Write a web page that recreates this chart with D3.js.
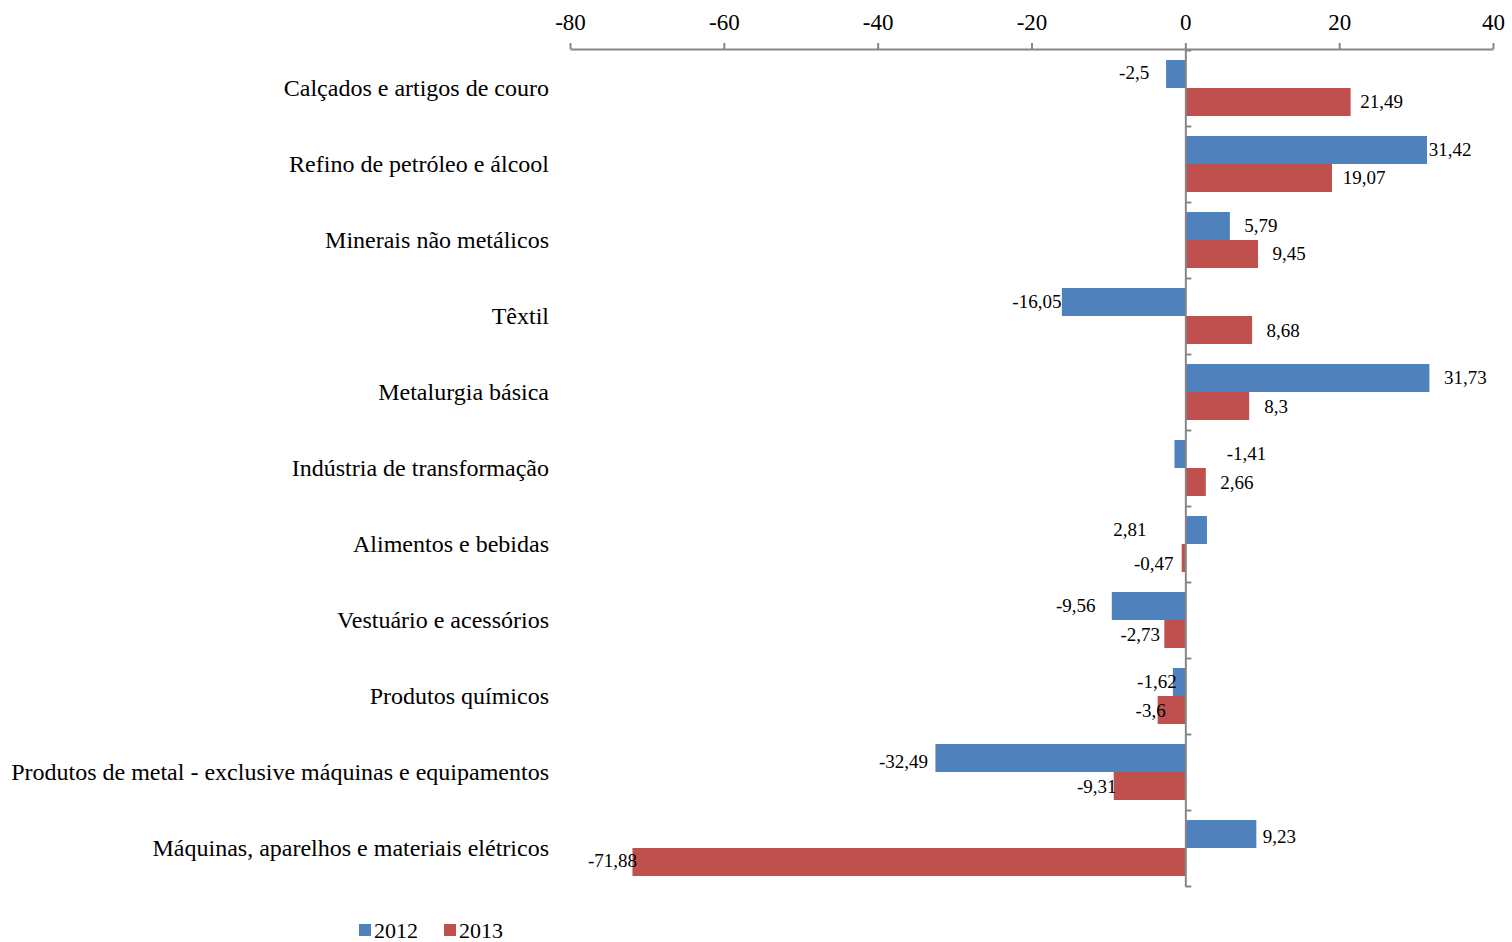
<!DOCTYPE html>
<html>
<head>
<meta charset="utf-8">
<script src="https://cdn.jsdelivr.net/npm/d3@7"></script>
<style>
  html, body { margin: 0; padding: 0; background: #fff; }
  svg text { font-family: "Liberation Serif", "Times New Roman", serif; fill: #000; }
  .axis path, .axis line { stroke: #868686; stroke-width: 2; }
</style>
</head>
<body>
<div id="chart"></div>
<script>
// Data
var categories = [
  "Calçados e artigos de couro",
  "Refino de petróleo e álcool",
  "Minerais não metálicos",
  "Têxtil",
  "Metalurgia básica",
  "Indústria de transformação",
  "Alimentos e bebidas",
  "Vestuário e acessórios",
  "Produtos químicos",
  "Produtos de metal - exclusive máquinas e equipamentos",
  "Máquinas, aparelhos e materiais elétricos"
];
var series = ["2012", "2013"];
var values2012 = [-2.5, 31.42, 5.79, -16.05, 31.73, -1.41, 2.81, -9.56, -1.62, -32.49, 9.23];
var values2013 = [21.49, 19.07, 9.45, 8.68, 8.3, 2.66, -0.47, -2.73, -3.6, -9.31, -71.88];
var xTicks = [-80, -60, -40, -20, 0, 20, 40];
var colors = { "2012": "#4f81bd", "2013": "#c0504d" };

// Label nudges (px from bar end, center of text), as placed in the original
var labelDx = {
  "2012": [-32, 23, 31, -25, 36, 72, -77, -36, -16, -32, 23],
  "2013": [31, 32, 31, 31, 27, 31, -28, -24, -7, -17, -20]
};
var labelDy = {
  "2012": [-1, 0, 0, 0, 0, 0, 0, 0, 0, 4, 3],
  "2013": [-1, -1, -1, 0, 0, 0, 5, 0, 0, 0, -2]
};

(function() {
  var width = 1512, height = 942;

  var svg = d3.select("#chart").append("svg")
    .attr("width", width)
    .attr("height", height);

  var x = d3.scaleLinear().domain([-80, 40]).range([570, 1493]);
  var y = d3.scaleBand().domain(categories).range([50, 886]);
  var sub = d3.scaleBand().domain(series).range([0, y.bandwidth()]).paddingOuter(0.357);

  var rows = categories.map(function(c, i) {
    return { cat: c, i: i, values: [
      { s: "2012", v: values2012[i] },
      { s: "2013", v: values2013[i] }
    ] };
  });

  // Bars
  var groups = svg.append("g").selectAll("g.row")
      .data(rows)
    .enter().append("g")
      .attr("class", "row")
      .attr("transform", function(d) { return "translate(0," + y(d.cat) + ")"; });

  groups.selectAll("rect")
      .data(function(d) { return d.values; })
    .enter().append("rect")
      .attr("x", function(d) { return x(Math.min(0, d.v)); })
      .attr("y", function(d) { return sub(d.s); })
      .attr("width", function(d) { return Math.abs(x(d.v) - x(0)); })
      .attr("height", sub.bandwidth())
      .attr("fill", function(d) { return colors[d.s]; });

  // Data labels
  groups.selectAll("text.value")
      .data(function(d) { return d.values.map(function(v) { return { s: v.s, v: v.v, i: d.i }; }); })
    .enter().append("text")
      .attr("class", "value")
      .attr("x", function(d) { return x(d.v) + labelDx[d.s][d.i]; })
      .attr("y", function(d) { return sub(d.s) + sub.bandwidth() / 2 + labelDy[d.s][d.i]; })
      .attr("text-anchor", "middle")
      .attr("dominant-baseline", "central")
      .style("font-size", "19px")
      .text(function(d) { return String(d.v).replace(".", ","); });

  // Top axis
  var xAxis = d3.axisTop(x)
    .tickValues(xTicks)
    .tickSize(6)
    .tickSizeOuter(0)
    .tickPadding(13)
    .tickFormat(function(d) { return String(d); });

  var gx = svg.append("g")
    .attr("class", "axis")
    .attr("transform", "translate(0,49)")
    .call(xAxis);
  gx.selectAll("text").style("font-size", "23px").attr("fill", "#000");

  // Zero axis with category boundary ticks
  var bounds = d3.scaleLinear().domain([0, categories.length]).range(y.range());
  var yAxis = d3.axisRight(bounds)
    .ticks(categories.length)
    .tickSize(6)
    .tickSizeOuter(0)
    .tickFormat("");

  svg.append("g")
    .attr("class", "axis")
    .attr("transform", "translate(" + x(0) + ",0)")
    .call(yAxis);

  // Category labels
  svg.append("g").selectAll("text")
      .data(categories)
    .enter().append("text")
      .attr("x", 549)
      .attr("y", function(d) { return y(d) + y.bandwidth() / 2; })
      .attr("text-anchor", "end")
      .attr("dominant-baseline", "central")
      .style("font-size", "24px")
      .text(function(d) { return d; });

  // Legend
  var legend = svg.append("g").attr("transform", "translate(359,930)");
  var items = legend.selectAll("g")
      .data(series)
    .enter().append("g")
      .attr("transform", function(d, i) { return "translate(" + (i * 85) + ",0)"; });

  items.append("rect")
    .attr("x", 0).attr("y", -6)
    .attr("width", 12).attr("height", 12)
    .attr("fill", function(d) { return colors[d]; });

  items.append("text")
    .attr("x", 15)
    .attr("y", 0)
    .attr("dominant-baseline", "central")
    .style("font-size", "22px")
    .text(function(d) { return d; });
})();
</script>
</body>
</html>
